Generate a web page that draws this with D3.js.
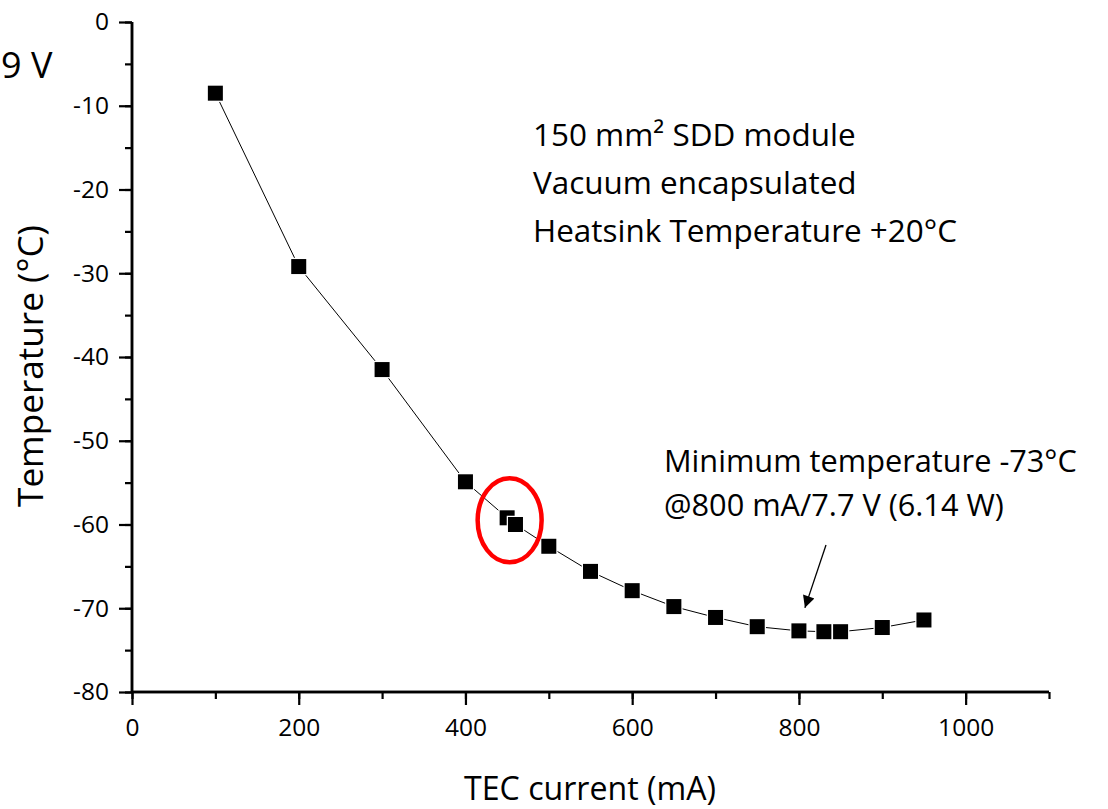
<!DOCTYPE html>
<html><head><meta charset="utf-8">
<script src="https://cdn.jsdelivr.net/npm/d3@7"></script>
<style>body{margin:0;background:#fff}svg{display:block}text{font-family:"Open Sans",Lato,sans-serif;fill:#000}</style>
</head><body>
<svg id="c" width="1108" height="809"></svg>
<script>
const currents = [100,200,300,400,450,460,500,550,600,650,700,750,800,830,850,900,950];
const temps = [-8.5,-29.2,-41.5,-54.9,-59.2,-60.0,-62.6,-65.6,-67.9,-69.8,-71.1,-72.2,-72.7,-72.8,-72.8,-72.3,-71.4];
const xTicks = [0,200,400,600,800,1000];
const yTicks = [0,-10,-20,-30,-40,-50,-60,-70,-80];
const infoLines = ["150 mm² SDD module","Vacuum encapsulated","Heatsink Temperature +20°C"];
const minLines = ["Minimum temperature -73°C","@800 mA/7.7 V (6.14 W)"];

const svg = d3.select("#c");
const x = d3.scaleLinear().domain([0,1100]).range([132,1049]);
const y = d3.scaleLinear().domain([-80,0]).range([692,22]);

function fit(sel, size, target){
  const n = sel.node(); sel.style("font-size", size+"px");
  const w = n.getComputedTextLength();
  const ns = w>0 ? size*target/w : size;
  sel.style("font-size", ns.toFixed(2)+"px");
  return ns;
}

// axes
const xMinor = d3.range(0,1101,100);
const yMinor = d3.range(-80,1,5);
const fmt = d=>String(d);
const gx = svg.append("g").attr("transform","translate(0,692)");
gx.call(d3.axisBottom(x).tickValues(xMinor).tickSize(7).tickFormat(""));
gx.append("g").attr("class","major").call(d3.axisBottom(x).tickValues(xTicks).tickSize(13).tickFormat(fmt).tickPadding(14));
gx.selectAll("path").attr("stroke-width",2.5).attr("stroke","#000");
gx.selectAll("line").attr("stroke-width",2.2).attr("stroke","#000");
gx.selectAll(".domain").attr("d",`M${x(0)},0H${x(1100)}`);

const gy = svg.append("g").attr("transform","translate(132,0)");
gy.call(d3.axisLeft(y).tickValues(yMinor).tickSize(7).tickFormat(""));
gy.append("g").attr("class","major").call(d3.axisLeft(y).tickValues(yTicks).tickSize(13).tickFormat(fmt).tickPadding(10));
gy.selectAll("path").attr("stroke-width",2.5).attr("stroke","#000");
gy.selectAll("line").attr("stroke-width",2.2).attr("stroke","#000");
gy.selectAll(".domain").attr("d",`M0,${y(-80)}V${y(0)}`);

svg.selectAll(".major .tick text").style("font-size","24.5px").style("font-family","'Open Sans'");

// line
const pts = currents.map((c,i)=>[c,temps[i]]);
svg.append("path").datum(pts)
  .attr("d",d3.line().x(d=>x(d[0])).y(d=>y(d[1])))
  .attr("fill","none").attr("stroke","#000").attr("stroke-width",1);
const s=15;
svg.selectAll("rect.m").data(pts).join("rect").attr("class","m")
  .attr("x",d=>x(d[0])-s/2).attr("y",d=>y(d[1])-s/2).attr("width",s).attr("height",s)
  .attr("fill","#000").attr("stroke","#fff").attr("stroke-width",2.5).attr("paint-order","stroke");

// red ellipse
svg.append("ellipse").attr("cx",x(453)).attr("cy",y(-59.5)).attr("rx",32).attr("ry",42)
  .attr("fill","none").attr("stroke","#f00").attr("stroke-width",4.5);

// arrow
svg.append("defs").append("marker").attr("id","ah").attr("viewBox","0 0 10 10")
  .attr("refX",10).attr("refY",5).attr("markerWidth",16).attr("markerHeight",12).attr("markerUnits","userSpaceOnUse")
  .attr("orient","auto").append("path").attr("d","M0,0L10,5L0,10Z").attr("fill","#000");
svg.append("line").attr("x1",826).attr("y1",545).attr("x2",x(800)+6).attr("y2",y(-72.7)-23)
  .attr("stroke","#000").attr("stroke-width",1.3).attr("marker-end","url(#ah)");

// texts
const info = svg.selectAll("text.info").data(infoLines).join("text").attr("class","info")
  .attr("x",533).attr("y",(d,i)=>146+i*48).text(d=>d);
const isz = fit(info.filter((d,i)=>i===2), 26, 424);
info.style("font-size", isz.toFixed(2)+"px");
const mins = svg.selectAll("text.min").data(minLines).join("text").attr("class","min")
  .attr("x",664).attr("y",(d,i)=>472+i*44).text(d=>d);
const msz = fit(mins.filter((d,i)=>i===0), 26, 413);
mins.style("font-size", msz.toFixed(2)+"px");
svg.append("text").attr("x",1).attr("y",78).style("font-size","36px").text("9 V");

fit(svg.append("text").attr("x",590).attr("y",800).attr("text-anchor","middle").text("TEC current (mA)"), 26, 252);
fit(svg.append("text").attr("transform","translate(43,366) rotate(-90)").attr("text-anchor","middle").text("Temperature (°C)"), 26, 282);
</script>
</body></html>
